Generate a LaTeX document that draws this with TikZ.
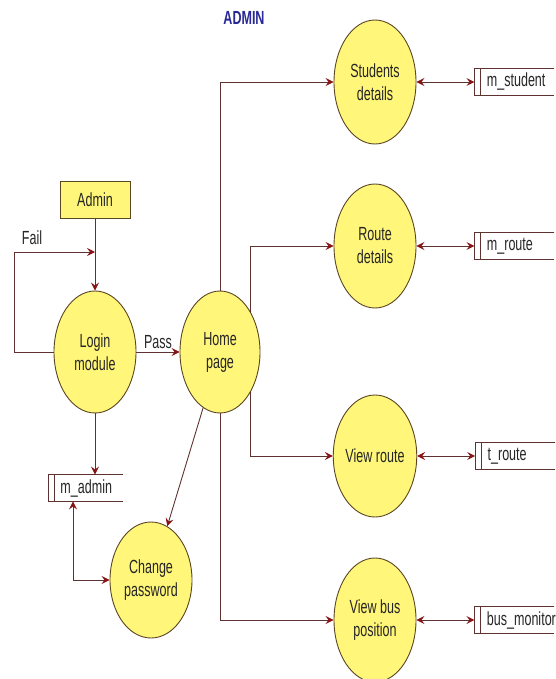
\documentclass[tikz,border=0pt]{standalone}
\usepackage{fontspec}
\setmainfont[FakeStretch=0.66]{Liberation Sans}
\usepackage{tikz}
\usetikzlibrary{arrows.meta,positioning,shapes.geometric}
\definecolor{fillY}{RGB}{255,246,122}
\definecolor{edge}{RGB}{90,70,35}
\definecolor{ln}{RGB}{95,50,50}
\definecolor{tip}{RGB}{135,20,20}
\definecolor{ttl}{RGB}{40,40,150}

\begin{document}
\begin{tikzpicture}[x=1pt,y=-1pt,line width=0.9pt,
  n/.style={draw=edge,fill=fillY,ellipse,inner sep=0pt,minimum width=82pt,minimum height=122pt,align=center},
  ext/.style={draw=edge,fill=fillY,minimum width=70pt,minimum height=37pt,inner sep=0pt},
  st/.style={text width=#1,inner xsep=12pt,inner ysep=0pt,minimum height=26pt,align=left},
  a/.style={draw=ln,-{Stealth[length=8pt,width=8pt,inset=3pt,color=tip]}},
  aa/.style={draw=ln,{Stealth[length=8pt,width=8pt,inset=3pt,color=tip]}-{Stealth[length=8pt,width=8pt,inset=3pt,color=tip]}},
  every node/.append style={font=\fontsize{19}{23}\selectfont,text=black!85}]
\useasboundingbox (0,0) rectangle (555,679);
\node[font=\fontsize{19}{23}\selectfont\bfseries,text=ttl] (t) at (244,18) {ADMIN};
\node[n] (lm) at (95,352) {Login\\module};
\node[n,minimum width=80pt] (hp) at (220,352) {Home\\page};
\node[ext,above=72pt of lm] (ad) {Admin};
\node[n,minimum height=116pt] (cp) at (151,580) {Change\\password};
\node[n,minimum height=124pt] (sd) at (375,82) {Students\\details};
\node[n,minimum height=124pt] (rd) at (375,246) {Route\\details};
\node[n] (vr) at (375,456) {View route};
\node[n,minimum height=124pt] (vb) at (375,620) {View bus\\position};
\node[st=50pt,anchor=west] (ma) at (48,488) {m\_admin};
\node[st=55pt,right=58pt of sd] (ms) {m\_student};
\node[st=55pt,right=58pt of rd] (mr) {m\_route};
\node[st=55pt,right=58pt of vr] (tr) {t\_route};
\node[st=55pt,right=58pt of vb] (bm) {bus\_monitor};
\foreach \s in {ma,ms,mr,tr,bm}
  \draw[ln] (\s.north east) -- (\s.north west) -- (\s.south west) -- (\s.south east)
    ([xshift=6pt]\s.north west) -- ([xshift=6pt]\s.south west);
% login and its loop
\coordinate (j) at (95,252);
\draw[a] (ad) -- (lm);
\draw[a] (lm.west) -- (14,352) -- (14,252) -- (j);
\node (f) at (32,238) {Fail};
\draw[a] (lm) -- node[above]{Pass} (hp);
\draw[a] (lm) -- (lm.south |- ma.north);
\draw[aa] ([xshift=25pt]ma.south west) |- (cp);
% home page
\draw[a] (hp) -- (cp);
\draw[a] (hp) |- (sd);
\draw[a] (hp.53) |- (rd);
\draw[a] (hp.-53) |- (vr);
\draw[a] (hp) |- (vb);
% stores
\draw[aa] (sd) -- (ms);
\draw[aa] (rd) -- (mr);
\draw[aa] (vr) -- (tr);
\draw[aa] (vb) -- (bm);
\end{tikzpicture}
\end{document}
